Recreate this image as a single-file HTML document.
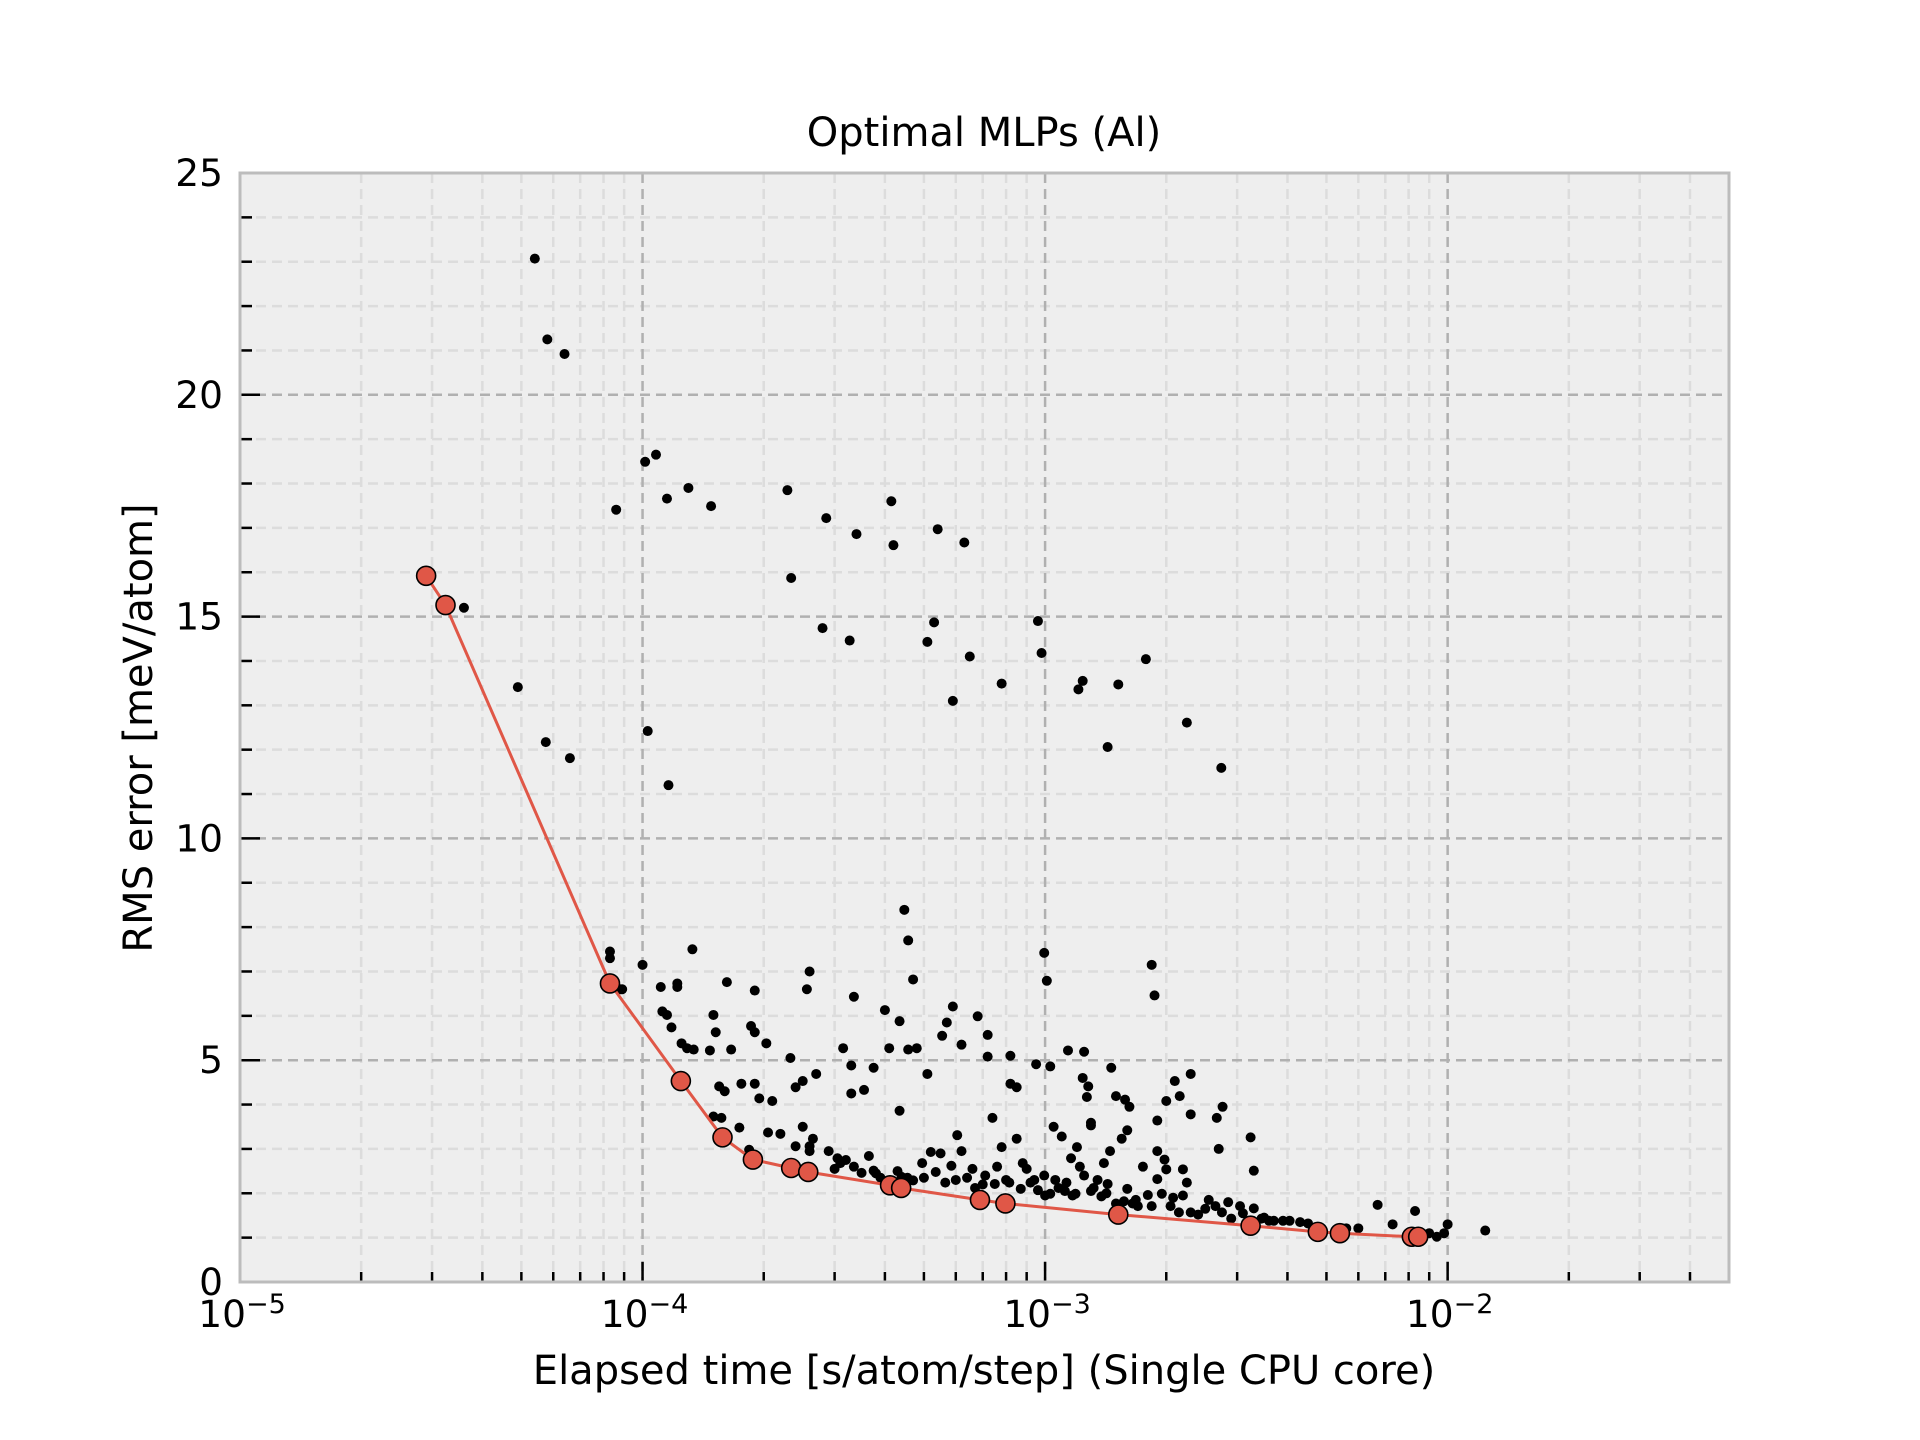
<!DOCTYPE html>
<html><head><meta charset="utf-8"><style>
html,body{margin:0;padding:0;background:#fff;}
svg{display:block;font-family:"DejaVu Sans","Liberation Sans",sans-serif;}
</style></head><body>
<svg id="chart" width="1920" height="1440" viewBox="0 0 1920 1440" xmlns="http://www.w3.org/2000/svg">
<rect width="1920" height="1440" fill="#fff"/>
<g id="plot"></g>
</svg>
<script>
const xTickExps = [-5, -4, -3, -2];
const yTickLabels = [0, 5, 10, 15, 20, 25];
const frontierTime = [2.9e-5,3.24e-5,8.3e-5,1.245e-4,1.58e-4,1.88e-4,2.34e-4,2.58e-4,4.12e-4,4.39e-4,6.89e-4,7.97e-4,1.52e-3,3.24e-3,4.76e-3,5.4e-3,8.15e-3,8.45e-3];
const frontierRms = [15.92,15.26,6.73,4.53,3.26,2.76,2.57,2.48,2.18,2.12,1.85,1.77,1.52,1.27,1.13,1.10,1.02,1.02];
const allTime = [5.4e-5,5.8e-5,6.4e-5,3.6e-5,4.9e-5,5.75e-5,6.6e-5,8.3e-5,8.3e-5,8.8e-5,8.6e-5,1.015e-4,1.08e-4,1.15e-4,1.3e-4,1.48e-4,1.03e-4,1.16e-4,2.29e-4,2.34e-4,2.86e-4,2.8e-4,3.27e-4,3.4e-4,4.15e-4,4.2e-4,5.41e-4,5.1e-4,5.3e-4,5.9e-4,6.3e-4,6.5e-4,7.8e-4,9.6e-4,9.8e-4,1.21e-3,1.24e-3,1.43e-3,1.52e-3,1.78e-3,2.25e-3,2.74e-3,1.84e-3,1.87e-3,9.95e-4,1.01e-3,4.47e-4,4.57e-4,4.7e-4,1.33e-4,
1.0e-4,1.11e-4,1.22e-4,1.22e-4,1.12e-4,1.15e-4,1.18e-4,1.25e-4,1.29e-4,1.34e-4,1.62e-4,1.5e-4,1.52e-4,1.66e-4,1.9e-4,1.86e-4,1.9e-4,2.03e-4,1.47e-4,1.55e-4,1.6e-4,1.76e-4,1.9e-4,1.95e-4,2.1e-4,1.5e-4,1.57e-4,
2.6e-4,2.56e-4,3.15e-4,2.33e-4,2.5e-4,2.4e-4,2.7e-4,3.3e-4,3.55e-4,3.3e-4,3.35e-4,4.0e-4,4.35e-4,3.75e-4,4.1e-4,4.57e-4,4.8e-4,4.35e-4,5.1e-4,5.55e-4,5.7e-4,5.9e-4,6.2e-4,6.8e-4,7.2e-4,7.2e-4,8.2e-4,8.2e-4,8.5e-4,9.5e-4,1.03e-3,1.14e-3,1.25e-3,1.24e-3,1.28e-3,1.27e-3,1.46e-3,1.5e-3,1.58e-3,1.62e-3,2.1e-3,2.16e-3,2.3e-3,2.3e-3,2.0e-3,2.76e-3,2.67e-3,3.24e-3,3.3e-3,2.7e-3,1.9e-3,1.6e-3,1.55e-3,1.3e-3,1.3e-3,
1.84e-4,2.2e-4,2.4e-4,2.65e-4,2.6e-4,2.9e-4,3.05e-4,3.1e-4,3.35e-4,3.5e-4,3.65e-4,3.75e-4,3.9e-4,4.4e-4,4.55e-4,4.7e-4,4.95e-4,5.2e-4,5.35e-4,5.65e-4,5.85e-4,6.05e-4,6.2e-4,6.4e-4,6.7e-4,7.1e-4,7.4e-4,7.5e-4,7.8e-4,8.15e-4,8.5e-4,8.8e-4,9.2e-4,9.6e-4,9.95e-4,1.03e-3,1.08e-3,1.13e-3,1.19e-3,1.25e-3,1.32e-3,1.38e-3,1.43e-3,1.5e-3,1.57e-3,1.65e-3,1.7e-3,1.8e-3,1.84e-3,1.9e-3,2.0e-3,2.05e-3,2.15e-3,2.25e-3,2.3e-3,2.4e-3,2.55e-3,2.65e-3,2.75e-3,2.9e-3,3.05e-3,3.3e-3,3.45e-3,3.6e-3,3.7e-3,3.9e-3,4.05e-3,4.3e-3,4.5e-3,5.6e-3,6.0e-3,6.7e-3,7.3e-3,8.3e-3,9.0e-3,9.4e-3,9.8e-3,1.0e-2,1.24e-2,
1.05e-3,1.1e-3,1.16e-3,1.2e-3,1.4e-3,1.45e-3,1.9e-3,1.98e-3,1.95e-3,2.2e-3,1.74e-4,2.05e-4,2.5e-4,2.6e-4,8.9e-5,
3.0e-4,3.2e-4,3.8e-4,4.3e-4,5.0e-4,5.5e-4,6.0e-4,6.6e-4,7.0e-4,7.6e-4,8.0e-4,8.7e-4,9.0e-4,9.4e-4,1.0e-3,1.06e-3,1.12e-3,1.17e-3,1.22e-3,1.3e-3,1.35e-3,1.42e-3,1.6e-3,1.68e-3,1.75e-3,2.08e-3,2.2e-3,2.5e-3,2.85e-3,3.1e-3,3.5e-3];
const allRms = [23.07,21.25,20.92,15.2,13.41,12.17,11.81,7.45,7.3,6.6,17.41,18.49,18.65,17.66,17.9,17.49,12.42,11.2,17.85,15.87,17.22,14.74,14.46,16.86,17.6,16.61,16.97,14.43,14.87,13.1,16.67,14.1,13.49,14.9,14.18,13.36,13.55,12.06,13.47,14.04,12.61,11.59,7.15,6.46,7.42,6.79,8.39,7.7,6.82,7.5,
7.15,6.65,6.65,6.73,6.1,6.02,5.74,5.38,5.27,5.24,6.76,6.02,5.63,5.24,6.57,5.77,5.63,5.38,5.22,4.41,4.3,4.47,4.47,4.14,4.08,3.73,3.7,
7.0,6.6,5.27,5.05,4.53,4.39,4.69,4.88,4.33,4.25,6.43,6.13,5.88,4.83,5.27,5.24,5.27,3.86,4.69,5.55,5.85,6.21,5.35,5.99,5.57,5.08,5.1,4.47,4.39,4.91,4.86,5.22,5.19,4.6,4.41,4.17,4.83,4.19,4.11,3.95,4.53,4.19,4.69,3.78,4.08,3.95,3.7,3.26,2.51,3.0,3.64,3.42,3.23,3.53,3.59,
2.98,3.34,3.06,3.23,3.06,2.95,2.79,2.68,2.6,2.46,2.84,2.51,2.35,2.37,2.35,2.29,2.68,2.93,2.48,2.24,2.62,3.31,2.95,2.35,2.12,2.4,3.7,2.21,3.04,2.24,3.23,2.68,2.24,2.07,2.4,1.99,2.12,2.24,1.99,2.4,2.12,1.93,2.21,1.77,1.82,1.77,1.71,1.96,1.71,2.32,2.54,1.71,1.57,2.24,1.57,1.52,1.85,1.71,1.57,1.43,1.71,1.66,1.43,1.38,1.38,1.38,1.38,1.35,1.32,1.21,1.21,1.74,1.3,1.6,1.1,1.02,1.1,1.3,1.16,
3.5,3.28,2.79,3.04,2.68,2.95,2.95,2.76,1.99,2.54,3.48,3.37,3.5,2.95,6.6,
2.55,2.75,2.45,2.5,2.35,2.9,2.3,2.55,2.2,2.6,2.3,2.1,2.55,2.3,1.95,2.3,2.05,1.95,2.6,2.05,2.3,2.0,2.1,1.85,2.6,1.9,1.95,1.65,1.8,1.55,1.45];

const L=240,R=1729,T=173,B=1282;
const XMIN=-5, XMAX=Math.log10(0.05), YMIN=0, YMAX=25;
function xs(v){return L+(Math.log10(v)-XMIN)/(XMAX-XMIN)*(R-L);}
function ys(v){return B-(v-YMIN)/(YMAX-YMIN)*(B-T);}
const NS="http://www.w3.org/2000/svg";
const g=document.getElementById('plot');
function mk(tag,attrs,parent){const e=document.createElementNS(NS,tag);for(const k in attrs)e.setAttribute(k,attrs[k]);(parent||g).appendChild(e);return e;}

const bg=mk('rect',{x:L,y:T,width:R-L,height:B-T,fill:'#eeeeee'});



const gridG=mk('g',{});


for(let e=-5;e<=-2;e++){for(let m=2;m<=9;m++){const v=m*Math.pow(10,e);if(Math.log10(v)>XMAX)continue;const x=xs(v);
  mk('line',{x1:x,x2:x,y1:T,y2:B,stroke:'#dcdcdc','stroke-width':2.5,'stroke-dasharray':'10,6'},gridG);}}
for(let v=1;v<25;v++){if(v%5===0)continue;const y=ys(v);
  mk('line',{x1:L,x2:R,y1:y,y2:y,stroke:'#dcdcdc','stroke-width':2.5,'stroke-dasharray':'10,6'},gridG);}
for(const e of xTickExps){const x=xs(Math.pow(10,e));if(x<=L+1)continue;
  mk('line',{x1:x,x2:x,y1:T,y2:B,stroke:'#b0b0b0','stroke-width':2.5,'stroke-dasharray':'10,6'},gridG);}
for(const v of yTickLabels){if(v===0||v===25)continue;const y=ys(v);
  mk('line',{x1:L,x2:R,y1:y,y2:y,stroke:'#b0b0b0','stroke-width':2.5,'stroke-dasharray':'10,6'},gridG);}

const sc=mk('g',{});


for(let i=0;i<allTime.length;i++){
  const c=mk('circle',{cx:xs(allTime[i]),cy:ys(allRms[i]),r:5,fill:'#000'},sc);
  
  
}
let d='';for(let i=0;i<frontierTime.length;i++){d+=(i?'L':'M')+xs(frontierTime[i]).toFixed(1)+','+ys(frontierRms[i]).toFixed(1);}
const fl=mk('path',{d:d,fill:'none',stroke:'#e05747','stroke-width':3});


const fg=mk('g',{});


for(let i=0;i<frontierTime.length;i++){
  const c=mk('circle',{cx:xs(frontierTime[i]),cy:ys(frontierRms[i]),r:9.5,fill:'#e05747',stroke:'#000','stroke-width':1.6},fg);
  
  
}

const tk=mk('g',{});


for(let e=-5;e<=-2;e++){for(let m=1;m<=9;m++){const v=m*Math.pow(10,e);if(Math.log10(v)>XMAX)continue;const x=xs(v);const len=m===1?20:10;
  mk('line',{x1:x,x2:x,y1:B,y2:B-len,stroke:'#000','stroke-width':2.5},tk);}}
for(let v=0;v<=25;v++){const y=ys(v);const len=v%5===0?20:12;
  mk('line',{x1:L,x2:L+len,y1:y,y2:y,stroke:'#000','stroke-width':2.5},tk);}

const sp=mk('rect',{x:L,y:T,width:R-L,height:B-T,fill:'none',stroke:'#bcbcbc','stroke-width':3});



for(const v of yTickLabels){
  const t=mk('text',{x:223,y:ys(v)+13,'text-anchor':'end','font-size':37.5,fill:'#000'});
  t.textContent=String(v);
  
  
}
for(const e of xTickExps){
  const x=xs(Math.pow(10,e));
  const t=mk('text',{x:x+2,y:1327,'text-anchor':'middle','font-size':37.5,fill:'#000'});
  
  
  const a=document.createElementNS(NS,'tspan');a.textContent='10';t.appendChild(a);
  const b=document.createElementNS(NS,'tspan');b.setAttribute('dy','-14');b.setAttribute('font-size','27');b.textContent='\u2212'+Math.abs(e);t.appendChild(b);
}
</script>
<svg style="position:absolute;left:0;top:0" width="1920" height="1440" xmlns="http://www.w3.org/2000/svg" font-family="DejaVu Sans, Liberation Sans, sans-serif">
<text x="984" y="146" text-anchor="middle" font-size="40">Optimal MLPs (Al)</text>
<text x="984" y="1384" text-anchor="middle" font-size="40">Elapsed time [s/atom/step] (Single CPU core)</text>
<text x="152" y="728" text-anchor="middle" font-size="40" transform="rotate(-90 152 728)">RMS error [meV/atom]</text>
</svg>
</body></html>
